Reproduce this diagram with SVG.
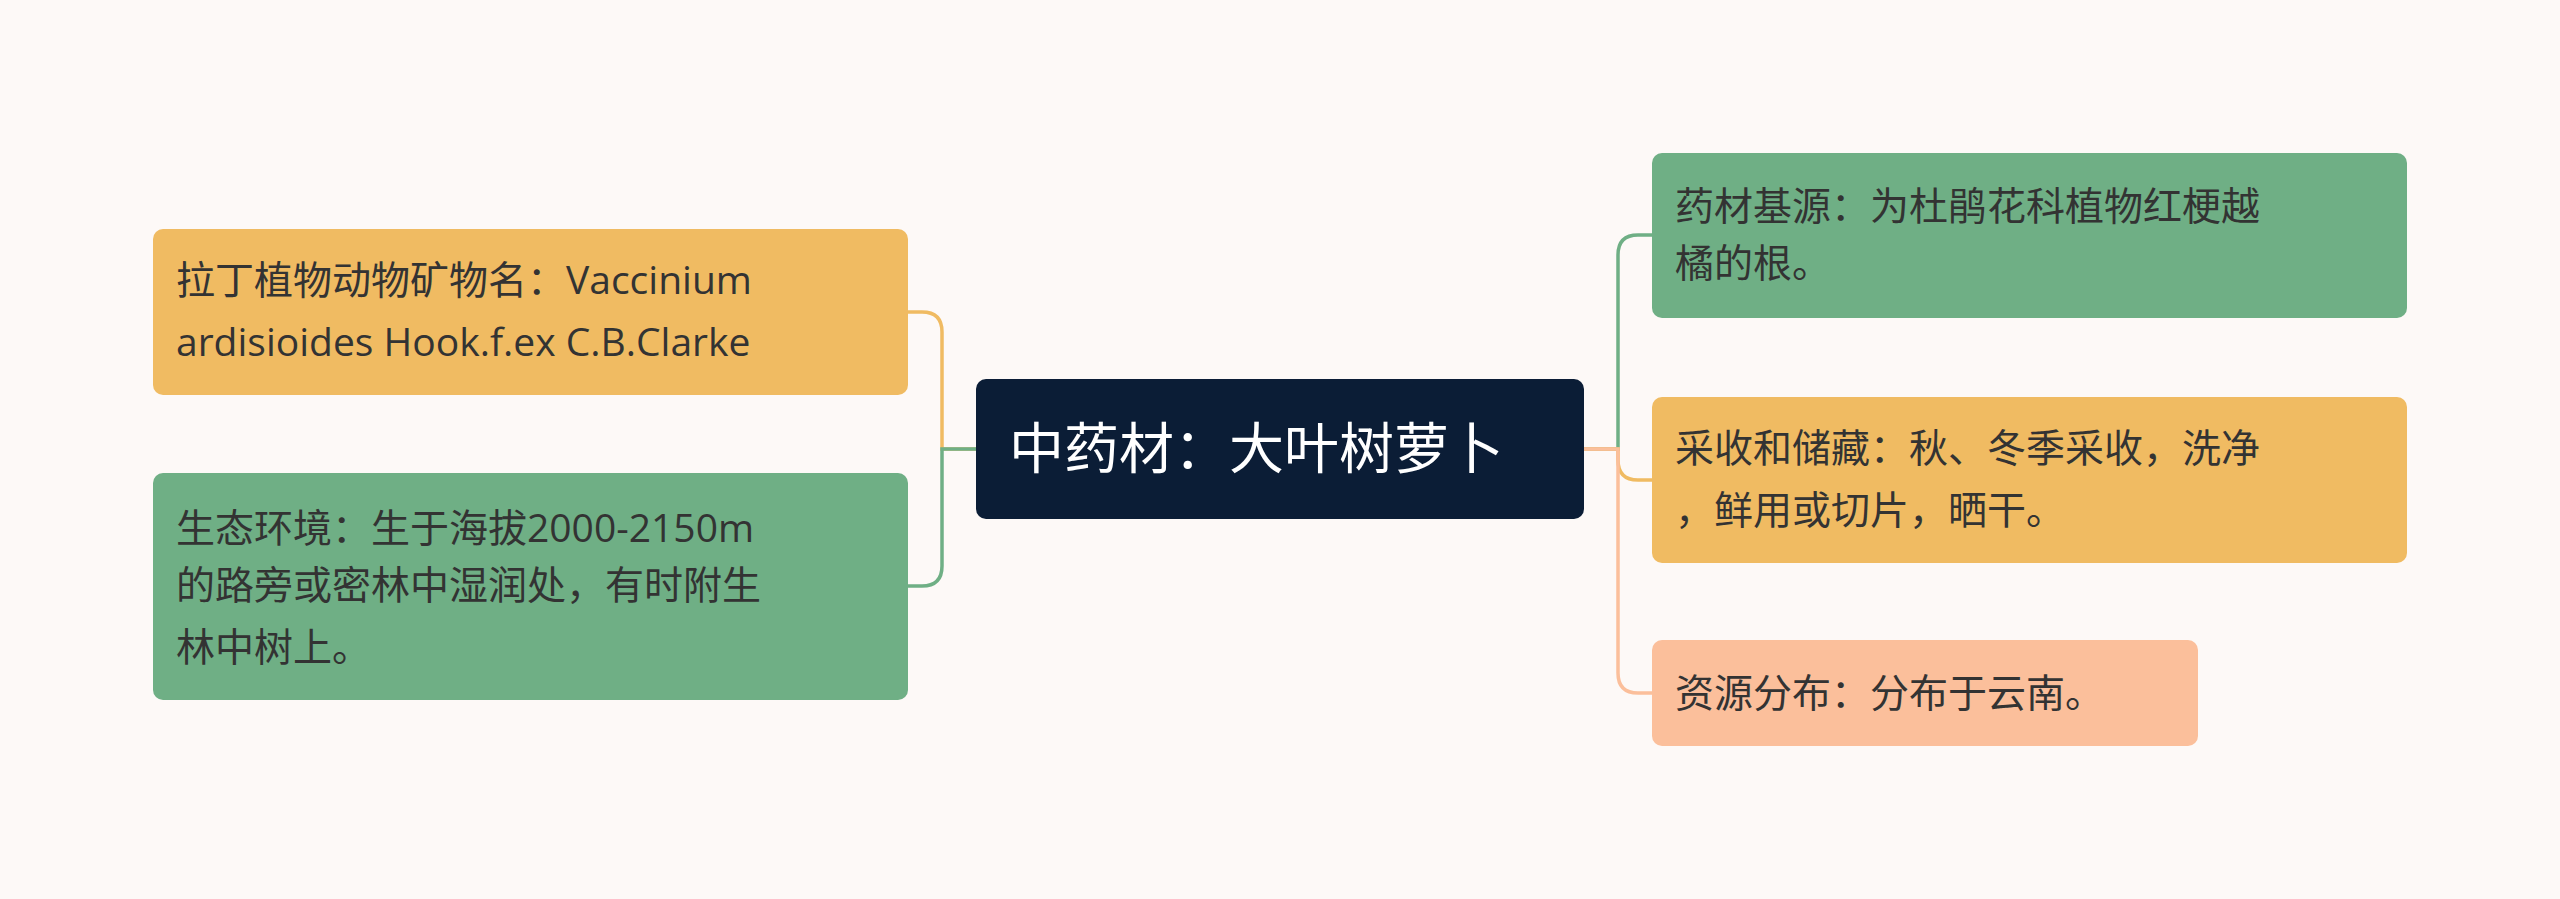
<svg xmlns="http://www.w3.org/2000/svg" width="2560" height="899" viewBox="0 0 2560 899">
<style>
text{font-family:"Open Sans","Noto Sans CJK SC",sans-serif;font-size:39px;fill:#333}
.c{fill:none;stroke-width:3.5}
</style>
<rect width="2560" height="899" fill="#fdf9f7"/>
<g id="connectors">
<path class="c" stroke="#f0bb62" d="M976 449 H942 V332 Q942 312 922 312 H908"/>
<path class="c" stroke="#6faf85" d="M976 449 H942 V566 Q942 586 922 586 H908"/>
<path class="c" stroke="#6faf85" d="M1584 449 H1618 V255 Q1618 235 1638 235 H1652"/>
<path class="c" stroke="#f0bb62" d="M1584 449 H1618 V460 Q1618 480 1638 480 H1652"/>
<path class="c" stroke="#fbbf9b" d="M1584 449 H1618 V673 Q1618 693 1638 693 H1652"/>
</g>
<g id="center"><rect x="976" y="379" width="608" height="140" rx="10" fill="#0b1d36"/><text x="1009" y="468" style="font-size:55px;fill:#fff">中药材：大叶树萝卜</text></g>
<g id="n1"><rect x="153" y="229" width="755" height="166" rx="10" fill="#f0bb62"/><text x="176" y="294">拉丁植物动物矿物名：Vaccinium</text><text x="176" y="356">ardisioides Hook.f.ex C.B.Clarke</text></g>
<g id="n2"><rect x="153" y="473" width="755" height="227" rx="10" fill="#6faf85"/><text x="176" y="542">生态环境：生于海拔2000-2150m</text><text x="176" y="599">的路旁或密林中湿润处，有时附生</text><text x="176" y="661">林中树上。</text></g>
<g id="n3"><rect x="1652" y="153" width="755" height="165" rx="10" fill="#6faf85"/><text x="1675" y="220">药材基源：为杜鹃花科植物红梗越</text><text x="1675" y="277">橘的根。</text></g>
<g id="n4"><rect x="1652" y="397" width="755" height="166" rx="10" fill="#f0bb62"/><text x="1675" y="462">采收和储藏：秋、冬季采收，洗净</text><text x="1675" y="524">，鲜用或切片，晒干。</text></g>
<g id="n5"><rect x="1652" y="640" width="546" height="106" rx="10" fill="#fbbf9b"/><text x="1675" y="707">资源分布：分布于云南。</text></g>
</svg>
